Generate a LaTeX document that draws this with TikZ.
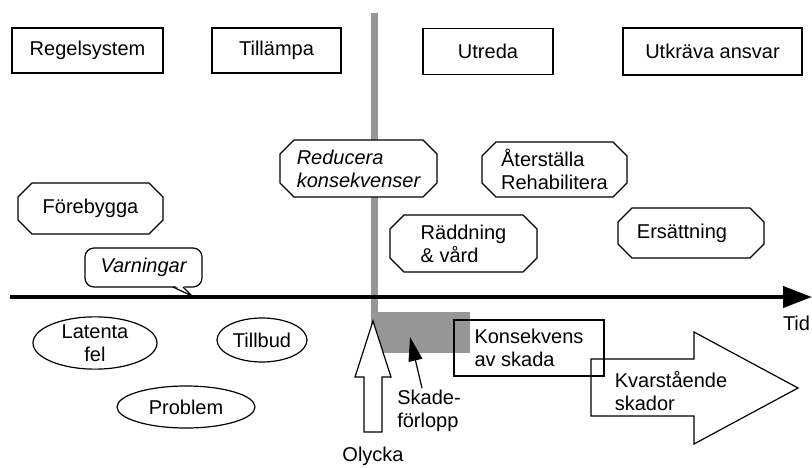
\documentclass[tikz,border=0pt]{standalone}
\usepackage{fontspec}
\setmainfont{Liberation Sans}
\usetikzlibrary{arrows.meta,shapes.geometric}
\definecolor{axgray}{RGB}{150,150,150}
\pgfdeclarelayer{background}
\pgfsetlayers{background,main}
\newcommand\octdraw[1]{%
  \draw[outl,fill=white] ([xshift=14pt]#1.north west) -- ([xshift=-14pt]#1.north east)
    -- ([yshift=-14pt]#1.north east) -- ([yshift=14pt]#1.south east)
    -- ([xshift=-14pt]#1.south east) -- ([xshift=14pt]#1.south west)
    -- ([yshift=14pt]#1.south west) -- ([yshift=-14pt]#1.north west) -- cycle;}
\begin{document}
\begin{tikzpicture}[x=1pt,y=-1pt,font=\fontsize{20}{23}\selectfont,
  every node/.style={outer sep=0pt,inner sep=0pt},
  outl/.style={line width=1.2pt},
  rbox/.style={draw,line width=1.2pt,fill=white},
  octbox/.style={align=left},
  ell/.style={draw,ellipse,line width=1.2pt,align=center,fill=white}]
\useasboundingbox (0,0) rectangle (812,468);

% top boxes
\node[rbox,minimum width=151pt,minimum height=45pt] (reg) at (87.5,50.5) {Regelsystem};
\node[rbox,minimum width=129pt,minimum height=45pt] (till) at (276.5,50.5) {Tillämpa};
\node[rbox,minimum width=130pt,minimum height=46pt] (utr) at (488,51.5) {Utreda};
\node[rbox,minimum width=179pt,minimum height=47pt] (utk) at (712.5,51.5) {Utkräva ansvar};

% octagon nodes
\node[octbox,minimum width=145pt,minimum height=51pt] (fore) at (90.5,208.5) {Förebygga};
\node[octbox,minimum width=157pt,minimum height=57pt] (red) at (358.5,168.5) {\itshape Reducera\\\itshape konsekvenser};
\node[octbox,minimum width=145pt,minimum height=55pt] (ater) at (554.5,169.5) {Återställa\\Rehabilitera};
\node[octbox,minimum width=147pt,minimum height=57pt] (radd) at (463.5,243.5) {Räddning\\\& vård};
\node[octbox,minimum width=146pt,minimum height=50pt] (ers) at (691,233) {Ersättning\hspace{18pt}};

\begin{pgfonlayer}{background}
  \draw[axgray,line width=7pt] (374.5,13) -- (374.5,322);
  \fill[axgray] (371,312) rectangle (470,353);
  \octdraw{fore}
  \octdraw{red}
  \octdraw{ater}
  \octdraw{radd}
  \octdraw{ers}
\end{pgfonlayer}

% callout
\node[draw,line width=1.2pt,rounded corners=9pt,fill=white,minimum width=117pt,minimum height=39pt] (varn) at (143.5,267.5) {\itshape Varningar};
\coordinate (vtip) at (192,296);
\fill[white] (173.5,285) -- (vtip) -- (182.5,285) -- cycle;
\draw[outl] (173,287) -- (vtip) -- (183,287);

% timeline
\coordinate (t0) at (10,297);
\coordinate (t1) at (812,297);
\draw[line width=4pt,-{Triangle[length=29pt,width=21pt]}] (t0) -- (t1);
\node[anchor=west] (tid) at (783,323) {Tid};

% ellipses
\node[ell,minimum width=124pt,minimum height=50pt] (lat) at (95,343) {Latenta\\fel};
\node[ell,minimum width=90pt,minimum height=44pt] (tb) at (262,340) {Tillbud};
\node[ell,minimum width=138pt,minimum height=42pt] (prob) at (186,407) {Problem};

% Olycka block arrow
\draw[outl,fill=white] (373,321) -- (391,377) -- (382,377) -- (382,432) -- (364,432) -- (364,377) -- (355,377) -- cycle;
\node (oly) at (373,456) {Olycka};

% Skadeförlopp
\node[align=left] (skade) at (429,411) {Skade-\\förlopp};
\coordinate (sktip) at (410,337);
\draw[line width=1.2pt,-{Triangle[length=24pt,width=14pt]}] ([xshift=-7pt,yshift=2pt]skade.north) -- (sktip);

% Konsekvens
\node[draw,line width=1.2pt,align=left,minimum width=150pt,minimum height=56pt] (kons) at (529,348) {Konsekvens\\av skada};

% Kvarstående block arrow
\draw[outl] (591,359) -- (694,359) -- (694,332) -- (798,388) -- (694,444) -- (694,416) -- (591,416) -- cycle;
\node[align=left] (kvar) at (671,391) {Kvarstående\\skador};
\end{tikzpicture}
\end{document}
